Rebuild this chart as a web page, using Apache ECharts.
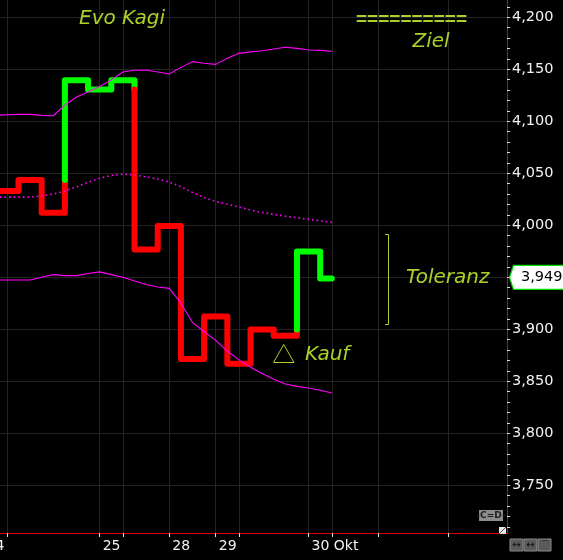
<!DOCTYPE html>
<html><head><meta charset="utf-8">
<script src="https://cdn.jsdelivr.net/npm/echarts@6/dist/echarts.min.js"></script>
<style>html,body{margin:0;padding:0;background:#000;}#c{width:563px;height:560px;}</style>
</head><body><div id="c"></div>
<script>
// ---- DATA ----
// Kagi line: price level of each horizontal segment, left to right (one step per unit on x)
const kagiLevels = [4032.9, 4043.4, 4012.0, 4139.5, 4130.5, 4139.5, 3976.7, 3999.3, 3871.3, 3912.3, 3866.8, 3899.8, 3893.8, 3974.8, 3948.8];
const lastPriceLabel = '3,949';
// band lines, one value every half step starting at x = -1
const bandStartX = -1;
const bandStepX = 0.5;
const upperBand = [4105.6, 4106.2, 4106.6, 4106.6, 4105.6, 4105.3, 4115.5, 4123.3, 4128.2, 4133.5, 4139.8, 4147.3, 4149.0, 4149.2, 4147.3, 4145.5, 4151.8, 4157.3, 4155.7, 4154.7, 4160.5, 4165.3, 4166.7, 4167.8, 4169.5, 4171.1, 4170.1, 4168.5, 4168.2, 4167.2];
const middleBand = [4027.0, 4027.0, 4027.0, 4027.0, 4028.2, 4030.0, 4033.0, 4036.8, 4041.4, 4045.2, 4047.9, 4049.1, 4048.3, 4046.5, 4044.4, 4041.5, 4037.0, 4031.5, 4026.7, 4022.8, 4020.2, 4017.5, 4014.6, 4012.3, 4010.5, 4008.7, 4007.2, 4005.7, 4004.2, 4002.7];
const lowerBand = [3947.3, 3947.3, 3947.3, 3947.3, 3950.0, 3952.5, 3951.5, 3951.5, 3953.5, 3955.1, 3952.5, 3950.0, 3946.3, 3943.0, 3940.6, 3939.3, 3925.0, 3906.5, 3897.5, 3889.3, 3879.0, 3870.5, 3863.5, 3857.3, 3851.8, 3847.3, 3845.0, 3843.5, 3841.3, 3838.7];
// x axis ticks (day boundaries) and their labels
const xTickPositions = [-1.5, -0.5, 3.5, 4.5, 6.5, 8.5, 9.5, 12.5, 13.5, 15.5, 18.5];
const xTickLabels = {'-1.5': '24', '3.5': '25', '6.5': '28', '8.5': '29', '12.5': '30 Okt'};
// y axis labels
const yLabelValues = [3750, 3800, 3850, 3900, 3950, 4000, 4050, 4100, 4150, 4200];
const yGridValues = [3750, 3800, 3850, 3900, 3950, 4000, 4050, 4100, 4150, 4200];
const yMinorStep = 10;
// annotations
const titleText = 'Evo Kagi';
const targetLine = '==========';
const targetText = 'Ziel';
const toleranceText = 'Toleranz';
const buyText = 'Kauf';

// ---- BUILD ----
const X_MIN = -1.7, X_MAX = 21.05, Y_MIN = 3704, Y_MAX = 4216.6;
const RED = '#ff0000', GREEN = '#00ff00', MAG = '#ff00ff', ANN = '#abd02c';

function bandData(arr){ return arr.map((v,i)=>[bandStartX + i*bandStepX, v]); }

function buildKagiRuns(levels){
  const runs = [];
  let color = RED;
  let cur = [[X_MIN, levels[0]], [0, levels[0]]];
  for (let i = 1; i < levels.length; i++){
    const x = i - 1, prev = levels[i-1], v = levels[i];
    const ref = i >= 2 ? levels[i-2] : null;
    let sw = null;
    if (ref !== null){
      if (color === RED && v > prev && ref > prev && v > ref) sw = ref;
      if (color === GREEN && v < prev && ref < prev && v < ref) sw = ref;
    }
    if (sw !== null){
      cur.push([x, sw]);
      runs.push({color, pts: cur});
      color = color === RED ? GREEN : RED;
      cur = [[x, sw]];
    }
    cur.push([x, v]);
    cur.push([i === levels.length - 1 ? x + 0.5 : x + 1, v]);
  }
  runs.push({color, pts: cur});
  return runs;
}

const yMinorTicks = [];
for (let v = Math.ceil(Y_MIN / yMinorStep) * yMinorStep; v <= Y_MAX; v += yMinorStep) yMinorTicks.push(v);

const FONT = 'DejaVu Sans';
const chart = echarts.init(document.getElementById('c'), null, {renderer: 'canvas'});

const series = [];
series.push({
  type: 'line', data: [], z: 0, silent: true,
  markLine: {
    silent: true, symbol: 'none', z: 0, animation: false,
    label: {show: false},
    lineStyle: {color: '#232323', width: 1, type: 'solid'},
    emphasis: {disabled: true},
    data: xTickPositions.map(v => ({xAxis: v})).concat(yGridValues.map(v => ({yAxis: v})))
  }
});
buildKagiRuns(kagiLevels).forEach(r => {
  series.push({
    type: 'line', data: r.pts, z: 2, showSymbol: false, symbol: 'none', silent: true,
    lineStyle: {color: r.color, width: 6, cap: 'round', join: 'round'}
  });
});
series.push({type: 'line', data: bandData(upperBand), z: 3, showSymbol: false, symbol: 'none', silent: true,
  lineStyle: {color: MAG, width: 1.1}});
series.push({type: 'line', data: bandData(middleBand), z: 3, showSymbol: false, symbol: 'none', silent: true,
  lineStyle: {color: MAG, width: 1.6, type: [1.6, 3]}});
series.push({type: 'line', data: bandData(lowerBand), z: 3, showSymbol: false, symbol: 'none', silent: true,
  lineStyle: {color: MAG, width: 1.1}});

chart.setOption({
  animation: false,
  backgroundColor: '#000',
  grid: {left: -21, right: 56, top: 0, bottom: 27, containLabel: false, outerBoundsMode: 'none'},
  xAxis: {
    type: 'value', min: X_MIN, max: X_MAX,
    axisLine: {show: true, onZero: false, lineStyle: {color: '#e80000', width: 1}},
    axisTick: {show: true, customValues: xTickPositions, length: 4, lineStyle: {color: '#e0e0e0'}},
    axisLabel: {show: true, customValues: Object.keys(xTickLabels).map(Number),
      formatter: v => xTickLabels[String(v)] || '', color: '#f2f2f2', fontFamily: FONT, fontSize: 14,
      align: 'left', margin: 6, padding: [0, 0, 0, 3]},
    splitLine: {show: false}
  },
  yAxis: {
    type: 'value', position: 'right', min: Y_MIN, max: Y_MAX,
    axisLine: {show: true, onZero: false, lineStyle: {color: '#e80000', width: 1}},
    axisTick: {show: true, customValues: yMinorTicks, length: 3, lineStyle: {color: '#e0e0e0'}},
    axisLabel: {show: true, customValues: yLabelValues, formatter: v => v.toLocaleString('en-US'),
      color: '#f2f2f2', fontFamily: FONT, fontSize: 14.5, margin: 5},
    splitLine: {show: false}
  },
  series: series
});

// last-price tag and annotations
const lastVal = kagiLevels[kagiLevels.length - 1];
const py = chart.convertToPixel({yAxisIndex: 0}, lastVal);
const ax = chart.convertToPixel({xAxisIndex: 0}, X_MAX);
const annFont = (sz) => 'italic ' + sz + 'px "DejaVu Sans"';
chart.setOption({
  graphic: [
    {type: 'polygon', z: 10, shape: {points: [[ax + 2.5, py - 1], [ax + 6.5, py - 13], [570, py - 13], [570, py + 11], [ax + 6.5, py + 11]]},
      style: {fill: '#ffffff', stroke: '#00e000', lineWidth: 1.2}},
    {type: 'text', z: 11, style: {text: lastPriceLabel, x: 521, y: py - 1, fill: '#000', font: '14.5px "DejaVu Sans"', textAlign: 'left', textVerticalAlign: 'middle'}},
    {type: 'text', z: 11, style: {text: titleText, x: 122, y: 19, fill: ANN, font: annFont(20), textAlign: 'center', textVerticalAlign: 'middle'}},
    {type: 'text', z: 11, style: {text: targetLine, x: 411.5, y: 20, fill: ANN, font: 'bold 19px "Liberation Sans"', textAlign: 'center', textVerticalAlign: 'middle'}},
    {type: 'text', z: 11, style: {text: targetText, x: 431, y: 42, fill: ANN, font: annFont(20), textAlign: 'center', textVerticalAlign: 'middle'}},
    {type: 'polyline', z: 11, shape: {points: [[385, 234.5], [388.5, 234.5], [388.5, 324.5], [385, 324.5]]}, style: {stroke: ANN, lineWidth: 1, fill: null}},
    {type: 'text', z: 11, style: {text: toleranceText, x: 406, y: 278, fill: ANN, font: annFont(20), textAlign: 'left', textVerticalAlign: 'middle'}},
    {type: 'polygon', z: 11, shape: {points: [[273.5, 362.5], [294, 362.5], [283.75, 344.5]]}, style: {stroke: ANN, lineWidth: 1, fill: null}},
    {type: 'text', z: 11, style: {text: buyText, x: 305, y: 355, fill: ANN, font: annFont(20), textAlign: 'left', textVerticalAlign: 'middle'}},
    // UI widgets
    {type: 'rect', z: 11, shape: {x: 479, y: 510, width: 24, height: 11}, style: {fill: '#8c8c8c'}},
    {type: 'text', z: 12, style: {text: '-C=D-', x: 491, y: 515.5, fill: '#202020', font: 'bold 9px "DejaVu Sans"', textAlign: 'center', textVerticalAlign: 'middle'}},
    {type: 'rect', z: 11, shape: {x: 499, y: 527, width: 7, height: 7}, style: {fill: '#e8e8e8'}},
    {type: 'line', z: 12, shape: {x1: 499, y1: 534, x2: 506, y2: 527}, style: {stroke: '#505050', lineWidth: 1}},
    {type: 'rect', z: 11, shape: {x: 510, y: 539, width: 13, height: 12}, style: {fill: '#5a5a5a', stroke: '#8a8a8a', lineWidth: 1}},
    {type: 'rect', z: 11, shape: {x: 524, y: 539, width: 13, height: 12}, style: {fill: '#5a5a5a', stroke: '#8a8a8a', lineWidth: 1}},
    {type: 'rect', z: 11, shape: {x: 538, y: 539, width: 13, height: 12}, style: {fill: '#5a5a5a', stroke: '#8a8a8a', lineWidth: 1}},
    {type: 'text', z: 12, style: {text: '↔', x: 516.5, y: 545, fill: '#111', font: '10px "DejaVu Sans"', textAlign: 'center', textVerticalAlign: 'middle'}},
    {type: 'text', z: 12, style: {text: '↔', x: 530.5, y: 545, fill: '#111', font: '10px "DejaVu Sans"', textAlign: 'center', textVerticalAlign: 'middle'}},
    {type: 'text', z: 12, style: {text: '⌒', x: 544.5, y: 545, fill: '#111', font: '10px "DejaVu Sans"', textAlign: 'center', textVerticalAlign: 'middle'}}
  ]
});
</script>
</body></html>
